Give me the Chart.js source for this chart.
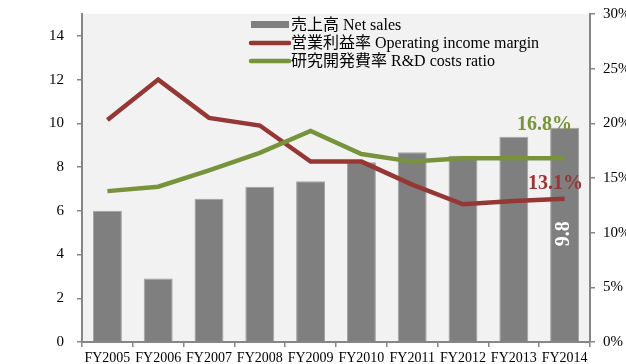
<!DOCTYPE html>
<html>
<head>
<meta charset="utf-8">
<script src="https://cdn.jsdelivr.net/npm/chart.js@4.4.1/dist/chart.umd.min.js"></script>
<style>
  html, body { margin: 0; padding: 0; background: #fff; }
  #wrap { width: 626px; height: 364px; }
</style>
</head>
<body>
<div id="wrap"><canvas id="salesChart" width="626" height="364"></canvas></div>
<script>
// Données
const years = ['FY2005', 'FY2006', 'FY2007', 'FY2008', 'FY2009', 'FY2010', 'FY2011', 'FY2012', 'FY2013', 'FY2014'];
const netSales = [6.0, 2.9, 6.55, 7.1, 7.35, 8.22, 8.68, 8.52, 9.39, 9.8];
const opMargin = [20.3, 24.0, 20.5, 19.8, 16.5, 16.5, 14.4, 12.6, 12.9, 13.1];
const rdRatio = [13.8, 14.2, 15.7, 17.3, 19.3, 17.2, 16.5, 16.8, 16.8, 16.8];
const salesTicks = [0, 2, 4, 6, 8, 10, 12, 14];
const pctTicks = [0, 5, 10, 15, 20, 25, 30];

const legendLabels = ['売上高 Net sales', '営業利益率 Operating income margin', '研究開発費率 R&D costs ratio'];

const SERIF = "'Liberation Serif', 'Times New Roman', 'Noto Sans CJK JP', serif";
const GREY = '#7f7f7f';
const RED = '#953735';
const GREEN = '#77933c';
const AXIS = '#868686';

// Fond gris de la zone de tracé
const plotBackground = {
    id: 'plotBackground',
    beforeDraw(chart) {
        const { ctx, chartArea: a } = chart;
        ctx.save();
        ctx.fillStyle = '#f2f2f2';
        ctx.fillRect(a.left, a.top, a.right - a.left, a.bottom - a.top);
        ctx.restore();
    }
};

// Légende dessinée dans la zone de tracé
const innerLegend = {
    id: 'innerLegend',
    afterDraw(chart) {
        const ctx = chart.ctx;
        const x0 = 251, x1 = 289, textX = 291;
        const rows = [25, 43, 61];
        ctx.save();
        ctx.fillStyle = GREY;
        ctx.fillRect(x0, rows[0] - 4, x1 - x0, 7);
        [RED, GREEN].forEach((c, i) => {
            ctx.strokeStyle = c;
            ctx.lineWidth = 4.5;
            ctx.lineCap = 'round';
            ctx.beginPath();
            ctx.moveTo(x0, rows[i + 1]);
            ctx.lineTo(x1, rows[i + 1]);
            ctx.stroke();
        });
        ctx.fillStyle = '#000';
        ctx.font = '16px ' + SERIF;
        ctx.textBaseline = 'middle';
        ctx.textAlign = 'left';
        legendLabels.forEach((t, i) => ctx.fillText(t, textX, rows[i] + 1));
        ctx.restore();
    }
};

// Étiquettes de la dernière année
const lastLabels = {
    id: 'lastLabels',
    afterDatasetsDraw(chart) {
        const ctx = chart.ctx;
        const n = years.length - 1;
        const bar = chart.getDatasetMeta(0).data[n];
        const red = chart.getDatasetMeta(1).data[n];
        const green = chart.getDatasetMeta(2).data[n];
        ctx.save();
        ctx.font = 'bold 20px ' + SERIF;
        ctx.textAlign = 'center';
        ctx.textBaseline = 'alphabetic';
        ctx.fillStyle = GREEN;
        ctx.fillText(rdRatio[n].toFixed(1) + '%', green.x - 20, green.y - 28);
        ctx.fillStyle = RED;
        ctx.fillText(opMargin[n].toFixed(1) + '%', red.x - 9, red.y - 10);
        ctx.translate(bar.x - 1, bar.y + 106);
        ctx.rotate(-Math.PI / 2);
        ctx.fillStyle = '#fff';
        ctx.textBaseline = 'middle';
        ctx.fillText(netSales[n].toFixed(1), 0, 0);
        ctx.restore();
    }
};

const axisGrid = { drawOnChartArea: false, drawTicks: true, tickLength: 5, color: AXIS, lineWidth: 1.5 };
const axisBorder = { display: true, color: AXIS, width: 2 };
// Hauteur de ligne réduite : les étiquettes n'écartent pas la zone de tracé du haut
const yFont = { family: SERIF, size: 15, lineHeight: 0.5 };

const chart = new Chart(document.getElementById('salesChart'), {
    data: {
        labels: years,
        datasets: [
            {
                type: 'bar',
                label: legendLabels[0],
                data: netSales,
                yAxisID: 'y',
                backgroundColor: GREY,
                borderColor: '#a3a3a3',
                borderWidth: 1,
                barPercentage: 0.57,
                categoryPercentage: 1,
                order: 2
            },
            {
                type: 'line',
                label: legendLabels[1],
                data: opMargin,
                yAxisID: 'y1',
                borderColor: RED,
                borderWidth: 4.5,
                pointRadius: 0,
                tension: 0,
                order: 1
            },
            {
                type: 'line',
                label: legendLabels[2],
                data: rdRatio,
                yAxisID: 'y1',
                borderColor: GREEN,
                borderWidth: 4.5,
                pointRadius: 0,
                tension: 0,
                order: 0
            }
        ]
    },
    options: {
        responsive: false,
        animation: false,
        layout: { padding: { top: 14, left: 0, right: 0, bottom: 0 } },
        plugins: { legend: { display: false }, tooltip: { enabled: false } },
        scales: {
            x: {
                offset: true,
                grid: { ...axisGrid, offset: true },
                border: axisBorder,
                ticks: { color: '#000', font: { family: SERIF, size: 14 }, padding: 3, maxRotation: 0, autoSkip: false },
                afterFit(s) { s.height = 22; }
            },
            y: {
                position: 'left',
                min: 0,
                max: 15,
                grid: axisGrid,
                border: axisBorder,
                afterBuildTicks(s) { s.ticks = salesTicks.map(v => ({ value: v })); },
                ticks: { color: '#000', font: yFont, padding: 13 },
                afterFit(s) { s.width = 82; s.paddingTop = 0; s.paddingBottom = 0; }
            },
            y1: {
                position: 'right',
                min: 0,
                max: 30,
                grid: axisGrid,
                border: axisBorder,
                afterBuildTicks(s) { s.ticks = pctTicks.map(v => ({ value: v })); },
                ticks: { color: '#000', font: yFont, padding: 8, callback: v => v + '%' },
                afterFit(s) { s.width = 36; s.paddingTop = 0; s.paddingBottom = 0; }
            }
        }
    },
    plugins: [plotBackground, innerLegend, lastLabels]
});
</script>
</body>
</html>
